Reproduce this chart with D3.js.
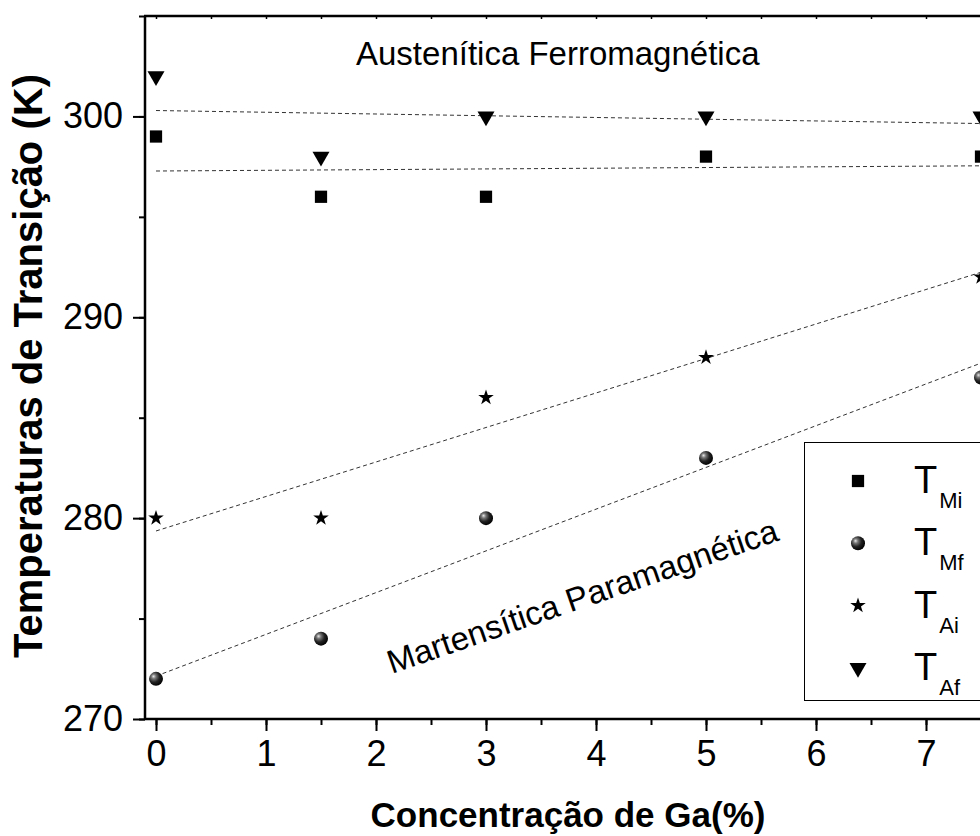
<!DOCTYPE html>
<html>
<head>
<meta charset="utf-8">
<script src="https://cdn.jsdelivr.net/npm/d3@7"></script>
<style>
  html, body { margin: 0; padding: 0; background: #fff; }
  svg { display: block; font-family: "Liberation Sans", Arial, sans-serif; }
</style>
</head>
<body>
<svg id="chart" width="980" height="836"></svg>
<script>
// Ga concentration (%) and transition temperatures (K)
const gaConc = [0, 1.5, 3, 5, 7.5];
const tMi = [299, 296, 296, 298, 298];
const tMf = [272, 274, 280, 283, 287];
const tAi = [280, 280, 286, 288, 292];
const tAf = [302, 298, 300, 300, 300];

const xTicks = [0, 1, 2, 3, 4, 5, 6, 7];
const yTicks = [270, 280, 290, 300];

const seriesNames = ["Mi", "Mf", "Ai", "Af"];
const seriesValues = [tMi, tMf, tAi, tAf];
const seriesSymbols = ["square", "sphere", "star", "triangleDown"];

const svg = d3.select("#chart");
const FONT = "'Liberation Sans', Arial, sans-serif";

const plotLeft = 145, plotTop = 16, plotBottom = 719;
const x = d3.scaleLinear().domain([-0.1, 8.1]).range([plotLeft, plotLeft + 8.2 * 110]);
const y = d3.scaleLinear().domain([270, 305]).range([plotBottom, plotTop]);
const plotRight = x(8.1);

// sphere shading
const defs = svg.append("defs");
const grad = defs.append("radialGradient").attr("id", "ball")
  .attr("cx", "38%").attr("cy", "38%").attr("r", "65%").attr("fx", "32%").attr("fy", "32%");
grad.append("stop").attr("offset", "0%").attr("stop-color", "#e8e8e8");
grad.append("stop").attr("offset", "25%").attr("stop-color", "#777");
grad.append("stop").attr("offset", "60%").attr("stop-color", "#222");
grad.append("stop").attr("offset", "100%").attr("stop-color", "#000");

// least-squares trend line for each series
function fit(xs, ys) {
  const mx = d3.mean(xs), my = d3.mean(ys);
  let sxy = 0, sxx = 0;
  xs.forEach((v, i) => { sxy += (v - mx) * (ys[i] - my); sxx += (v - mx) * (v - mx); });
  const b = sxy / sxx;
  return { a: my - b * mx, b };
}

const plot = svg.append("g");
const xMin = d3.min(gaConc), xMax = d3.max(gaConc);
seriesValues.forEach(vals => {
  const f = fit(gaConc, vals);
  plot.append("line")
    .attr("x1", x(xMin)).attr("y1", y(f.a + f.b * xMin))
    .attr("x2", x(xMax)).attr("y2", y(f.a + f.b * xMax))
    .attr("stroke", "#333").attr("stroke-width", 1)
    .attr("stroke-dasharray", "4,3");
});

function drawMarker(g, kind, cx, cy) {
  if (kind === "sphere") {
    g.append("circle").attr("cx", cx).attr("cy", cy).attr("r", 7).attr("fill", "url(#ball)");
    return;
  }
  let sym, size, rot = 0;
  if (kind === "square") { sym = d3.symbolSquare; size = 150; }
  else if (kind === "star") { sym = d3.symbolStar; size = 75; }
  else { sym = d3.symbolTriangle; size = 125; rot = 180; }
  g.append("path").attr("d", d3.symbol(sym, size)())
    .attr("transform", `translate(${cx},${cy}) rotate(${rot})`)
    .attr("fill", "#000");
}

seriesValues.forEach((vals, si) => {
  vals.forEach((v, i) => drawMarker(plot, seriesSymbols[si], x(gaConc[i]), y(v)));
});

// region labels
svg.append("text").attr("x", 356).attr("y", 65)
  .attr("font-size", 33).attr("fill", "#000").text("Austenítica Ferromagnética");
svg.append("text").attr("transform", "translate(586,607) rotate(-19)").attr("text-anchor", "middle")
  .attr("font-size", 33).attr("fill", "#000").text("Martensítica Paramagnética");

// legend
const lg = svg.append("g");
lg.append("rect").attr("x", 804.5).attr("y", 442.5).attr("width", 300).attr("height", 258)
  .attr("fill", "#fff").attr("stroke", "#000").attr("stroke-width", 1);
seriesNames.forEach((name, i) => {
  const cy = 481 + i * 62.3;
  drawMarker(lg, seriesSymbols[i], 858, cy);
  const t = lg.append("text").attr("x", 914).attr("y", cy + 12).attr("font-size", 38).attr("fill", "#000");
  t.append("tspan").text("T");
  t.append("tspan").attr("font-size", 22).attr("dy", 15).attr("dx", 2).text(name);
});

// axes
const axisColor = "#000";
const xMinor = d3.range(0, 7.51, 0.5);
const xMinorTop = d3.range(0, 8.01, 0.5);
const yMinor = d3.range(270, 305.01, 5);

const gx = svg.append("g").attr("transform", `translate(0,${plotBottom})`);
gx.call(d3.axisBottom(x).tickValues(xMinor).tickSize(6).tickFormat(""));
gx.selectAll(".tick line").attr("stroke-width", 2);
const gx2 = svg.append("g").attr("transform", `translate(0,${plotBottom})`);
gx2.call(d3.axisBottom(x).tickValues(xTicks).tickSize(12).tickPadding(9).tickFormat(d3.format("d")));
gx2.selectAll(".tick line").attr("stroke-width", 2);
gx2.selectAll(".tick text").attr("font-size", 36).attr("font-family", FONT).attr("fill", "#000");
gx.selectAll(".domain").remove();
gx2.selectAll(".domain").remove();
svg.append("line").attr("x1", plotLeft).attr("x2", plotRight).attr("y1", plotBottom).attr("y2", plotBottom)
  .attr("stroke", axisColor).attr("stroke-width", 2.5);

const gy = svg.append("g").attr("transform", `translate(${plotLeft},0)`);
gy.call(d3.axisLeft(y).tickValues(yMinor).tickSize(6).tickFormat(""));
gy.selectAll(".tick line").attr("stroke-width", 2);
const gy2 = svg.append("g").attr("transform", `translate(${plotLeft},0)`);
gy2.call(d3.axisLeft(y).tickValues(yTicks).tickSize(12).tickPadding(10).tickFormat(d3.format("d")));
gy2.selectAll(".tick line").attr("stroke-width", 2);
gy2.selectAll(".tick text").attr("font-size", 36).attr("font-family", FONT).attr("fill", "#000");
gy.selectAll(".domain").remove();
gy2.selectAll(".domain").remove();
svg.append("line").attr("x1", plotLeft).attr("x2", plotLeft).attr("y1", plotTop).attr("y2", plotBottom + 1)
  .attr("stroke", axisColor).attr("stroke-width", 2.5);

// top frame with small inward ticks
const gt = svg.append("g").attr("transform", `translate(0,${plotTop})`);
gt.call(d3.axisBottom(x).tickValues(xMinorTop).tickSize(3).tickFormat(""));
gt.selectAll(".domain").remove();
gt.selectAll(".tick line").attr("stroke-width", 1.5);
svg.append("line").attr("x1", plotLeft - 1).attr("x2", plotRight).attr("y1", plotTop).attr("y2", plotTop)
  .attr("stroke", axisColor).attr("stroke-width", 2.5);

// axis titles
svg.append("text").attr("x", 568).attr("y", 827).attr("text-anchor", "middle")
  .attr("font-size", 35).attr("font-weight", "bold").attr("fill", "#000").text("Concentração de Ga(%)");
svg.append("text").attr("transform", "translate(42,366) rotate(-90)").attr("text-anchor", "middle")
  .attr("font-size", 40).attr("font-weight", "bold").attr("fill", "#000").text("Temperaturas de Transição (K)");
</script>
</body>
</html>
